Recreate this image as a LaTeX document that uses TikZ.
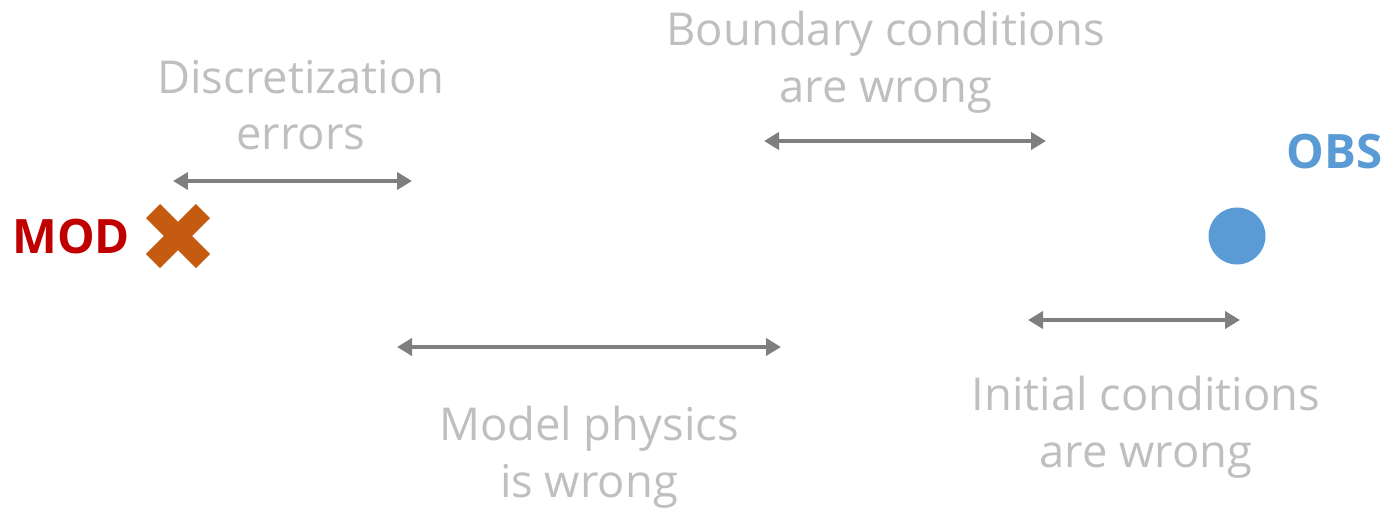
\documentclass[tikz,border=0pt]{standalone}
\usepackage{fontspec}
\setmainfont{Open Sans}
\usetikzlibrary{arrows.meta}
\definecolor{lbl}{RGB}{191,191,191}
\definecolor{arr}{RGB}{127,127,127}
\definecolor{modred}{RGB}{192,0,0}
\definecolor{obsblue}{RGB}{91,155,213}
\definecolor{xorange}{RGB}{197,90,17}
\tikzset{
  lab/.style={text=lbl, font=\fontsize{25.8}{32.3}\selectfont, align=center, inner sep=0pt},
  twoway/.style={draw=arr, line width=2.8pt, {Triangle[length=0.3cm,width=0.34cm]}-{Triangle[length=0.3cm,width=0.34cm]}},
  big/.style={font=\fontsize{27}{32}\selectfont\bfseries, inner sep=0pt}
}
\begin{document}
\begin{tikzpicture}[x=0.02cm,y=-0.02cm]
\useasboundingbox (0,0) rectangle (1400,508);
% labels
\node[lab] (disc) at (301,105) {Discretization\\errors};
\node[lab] (bound) at (886,62) {Boundary conditions\\are wrong};
\node[lab] (phys) at (589,457) {Model physics\\is wrong};
\node[lab] (init) at (1146,427) {Initial conditions\\are wrong};
\node[big, text=modred, anchor=west] (mod) at (12,237) {MOD};
\node[big, text=obsblue, anchor=east] (obs) at (1383,152) {OBS};
% arrow endpoints
\coordinate (d1) at (173,181); \coordinate (d2) at (412,181);
\coordinate (b1) at (764,141); \coordinate (b2) at (1046,141);
\coordinate (p1) at (397,347); \coordinate (p2) at (781,347);
\coordinate (i1) at (1028,320); \coordinate (i2) at (1240,320);
\draw[twoway] (d1) -- (d2);
\draw[twoway] (b1) -- (b2);
\draw[twoway] (p1) -- (p2);
\draw[twoway] (i1) -- (i2);
% model cross
\coordinate (x) at (178,236);
\draw[xorange, line width=0.4cm] ([shift={(-25,-25)}]x) -- ([shift={(25,25)}]x);
\draw[xorange, line width=0.4cm] ([shift={(-25,25)}]x) -- ([shift={(25,-25)}]x);
% observation dot
\node[circle, fill=obsblue, minimum size=1.14cm, inner sep=0pt] (dot) at (1237,236) {};
\end{tikzpicture}
\end{document}
